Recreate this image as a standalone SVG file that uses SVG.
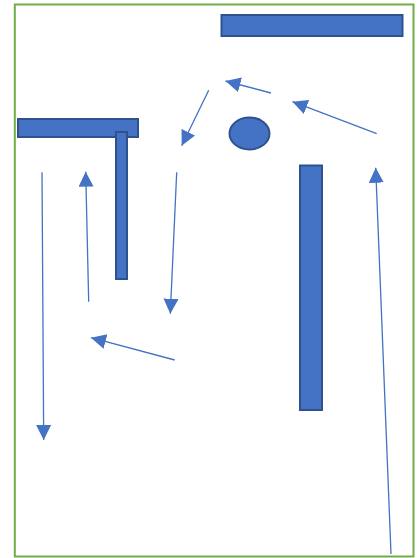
<svg xmlns="http://www.w3.org/2000/svg" width="417" height="558" viewBox="0 0 417 558">
<style>
.shape{fill:#4472C4;stroke:#2F528F;stroke-width:2}
.conn{stroke:#4472C4;stroke-width:1.3;fill:none;marker-end:url(#ah)}
</style>
<defs>
<marker id="ah" markerUnits="userSpaceOnUse" markerWidth="16" markerHeight="16" viewBox="0 0 16 16" refX="15" refY="7.5" orient="auto">
<path d="M0,0 L15,7.5 L0,15 z" fill="#4472C4"/>
</marker>
</defs>
<rect width="417" height="558" fill="#FFFFFF"/>
<rect id="frame" x="14.8" y="4.5" width="398.7" height="552" fill="none" stroke="#70AD47" stroke-width="2"/>
<g id="bar-top"><rect class="shape" x="221.5" y="15" width="181" height="21"/></g>
<g id="bar-left-h"><rect class="shape" x="18" y="119" width="120" height="18"/></g>
<g id="bar-left-v"><rect class="shape" x="116" y="132" width="11" height="147"/></g>
<g id="circle"><ellipse class="shape" cx="249.5" cy="133.5" rx="20" ry="16"/></g>
<g id="bar-right"><rect class="shape" x="300" y="165.5" width="22" height="244.5"/></g>
<g id="connectors">
<line class="conn" x1="271" y1="93" x2="225.5" y2="81"/>
<line class="conn" x1="376.7" y1="133.7" x2="292.5" y2="101.7"/>
<line class="conn" x1="208.7" y1="90.3" x2="181.7" y2="145.7"/>
<line class="conn" x1="42" y1="172.3" x2="43.7" y2="440"/>
<line class="conn" x1="88.7" y1="301.7" x2="85.7" y2="171.7"/>
<line class="conn" x1="176.7" y1="172.3" x2="170.3" y2="313.7"/>
<line class="conn" x1="174.7" y1="360" x2="91" y2="337.7"/>
<line class="conn" x1="391" y1="554" x2="375.7" y2="167.7"/>
</g>
</svg>
